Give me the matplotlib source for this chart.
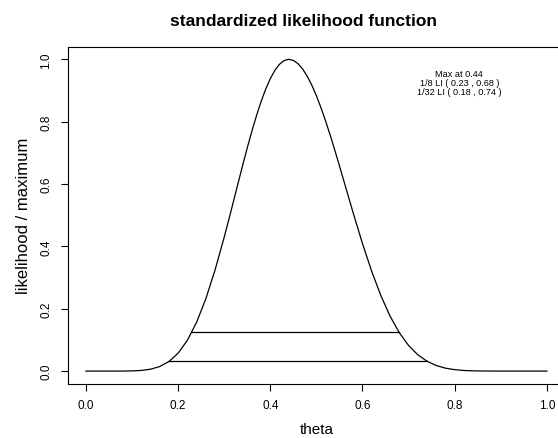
import matplotlib
matplotlib.use("Agg")
import matplotlib.pyplot as plt

plt.rcParams['font.family'] = ['Liberation Sans', 'DejaVu Sans']

# standardized likelihood
theta = [0.00, 0.02, 0.04, 0.06, 0.08, 0.10, 0.12, 0.14, 0.16, 0.18,
         0.20, 0.22, 0.24, 0.26, 0.28, 0.30, 0.31, 0.32, 0.33, 0.34,
         0.35, 0.36, 0.37, 0.38, 0.39, 0.40, 0.41, 0.42, 0.43, 0.44,
         0.45, 0.46, 0.47, 0.48, 0.49, 0.50, 0.51, 0.52, 0.53, 0.54,
         0.55, 0.56, 0.57, 0.58, 0.60, 0.62, 0.64, 0.66, 0.68, 0.70,
         0.72, 0.74, 0.76, 0.78, 0.80, 0.82, 0.84, 0.86, 0.88, 0.90,
         0.92, 0.94, 0.96, 0.98, 1.00]
lik = [0.0, 0.0, 0.0, 0.00002, 0.0001, 0.0006, 0.0021, 0.0060, 0.0146, 0.0306,
       0.0575, 0.0986, 0.1563, 0.2316, 0.3237, 0.4296, 0.4861, 0.5439, 0.6021, 0.6598,
       0.7159, 0.7693, 0.8192, 0.8645, 0.9043, 0.9380, 0.9648, 0.9843, 0.9961, 1.0,
       0.9965, 0.9862, 0.9693, 0.9462, 0.9173, 0.8833, 0.8446, 0.8021, 0.7565, 0.7083,
       0.6586, 0.6079, 0.5570, 0.5065, 0.4092, 0.3200, 0.2417, 0.1759, 0.1230, 0.0822,
       0.0524, 0.0316, 0.0179, 0.0094, 0.0046, 0.0020, 0.0008, 0.0003, 0.0001, 0.0,
       0.0, 0.0, 0.0, 0.0, 0.0]

max_at = 0.44
li8 = (0.23, 0.68)
li32 = (0.18, 0.74)

fig = plt.figure(figsize=(5.58, 4.39), dpi=100)
ax = fig.add_axes([0.121, 0.124, 0.892, 0.767])

ax.plot(theta, lik, color='black', lw=0.9)
ax.plot(li8, [1/8, 1/8], color='black', lw=0.9)
ax.plot(li32, [1/32, 1/32], color='black', lw=0.9)

ax.set_xlim(-0.04, 1.04)
ax.set_ylim(-0.04, 1.04)
ax.set_xticks([0.0, 0.2, 0.4, 0.6, 0.8, 1.0])
ax.set_yticks([0.0, 0.2, 0.4, 0.6, 0.8, 1.0])
ax.set_xticklabels(['0.0', '0.2', '0.4', '0.6', '0.8', '1.0'], fontsize=8.5)
ax.set_yticklabels(['0.0', '0.2', '0.4', '0.6', '0.8', '1.0'], fontsize=8.5,
                   rotation=90, va='center')
ax.tick_params(length=5, width=0.8, pad=6)
for s in ax.spines.values():
    s.set_linewidth(0.8)

ax.set_xlabel('theta', fontsize=11, labelpad=8)
ax.set_ylabel('likelihood / maximum', fontsize=12, labelpad=7)
fig.text(303/558, 1 - 22/439, 'standardized likelihood function',
         fontsize=12.5, fontweight='bold', ha='center', va='center')

ax.text(0.81, 0.953, 'Max at %.2f' % max_at, fontsize=6.6, ha='center', va='center')
ax.text(0.81, 0.925, '1/8 LI ( %.2f , %.2f )' % li8, fontsize=6.6, ha='center', va='center')
ax.text(0.81, 0.897, '1/32 LI ( %.2f , %.2f )' % li32, fontsize=6.6, ha='center', va='center')

fig.savefig('out.png', dpi=100)
